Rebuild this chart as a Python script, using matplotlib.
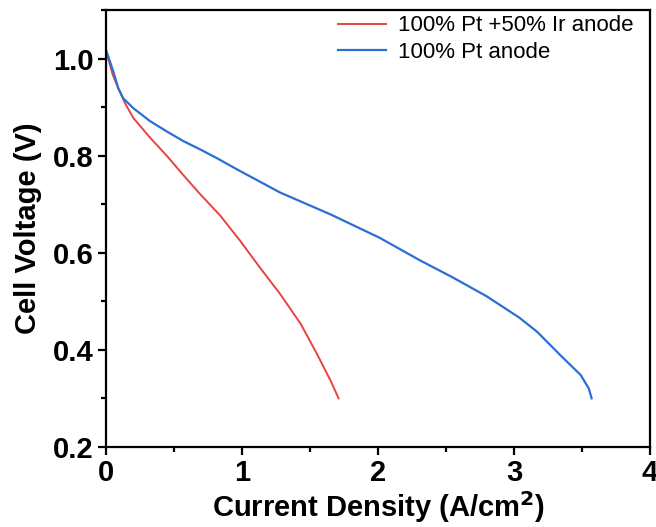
import matplotlib
matplotlib.use('Agg')
import matplotlib.pyplot as plt
from matplotlib.ticker import MultipleLocator

plt.rcParams['font.family'] = ['Liberation Sans', 'DejaVu Sans']

# 100% Pt + 50% Ir anode
ir_x = [0.0, 0.049, 0.09, 0.14, 0.20, 0.324, 0.446, 0.568, 0.691, 0.838, 0.985, 1.13, 1.28,
        1.43, 1.55, 1.65, 1.71]
ir_v = [1.016, 0.967, 0.939, 0.908, 0.878, 0.837, 0.800, 0.760, 0.721, 0.677, 0.625, 0.570,
        0.515, 0.454, 0.392, 0.337, 0.30]

# 100% Pt anode
pt_x = [0.0, 0.054, 0.09, 0.127, 0.20, 0.324, 0.446, 0.568, 0.691, 0.814, 0.961, 1.28, 1.65,
        2.01, 2.31, 2.55, 2.80, 3.04, 3.17, 3.34, 3.49, 3.55, 3.57]
pt_v = [1.018, 0.973, 0.939, 0.918, 0.898, 0.871, 0.850, 0.830, 0.813, 0.795, 0.772, 0.724,
        0.679, 0.631, 0.584, 0.549, 0.510, 0.466, 0.437, 0.389, 0.348, 0.320, 0.30]

labels = ['100% Pt +50% Ir anode', '100% Pt anode']

fig = plt.figure(figsize=(6.56, 5.27), dpi=100)
ax = fig.add_axes([0.1616, 0.152, 0.8294, 0.829])

ax.plot(ir_x, ir_v, color='#e8433f', lw=1.4, label=labels[0])
ax.plot(pt_x, pt_v, color='#2a6fd3', lw=1.6, label=labels[1])

ax.set_xlim(0, 4)
ax.set_ylim(0.2, 1.1)
ax.xaxis.set_major_locator(MultipleLocator(1))
ax.xaxis.set_minor_locator(MultipleLocator(0.5))
ax.yaxis.set_minor_locator(MultipleLocator(0.1))
ax.set_yticks([0.2, 0.4, 0.6, 0.8, 1.0])

for s in ax.spines.values():
    s.set_linewidth(1.6)
ax.tick_params(which='major', direction='out', length=6, width=1.6, labelsize=21, pad=3)
ax.tick_params(which='minor', direction='out', length=3.5, width=1.6)
for t in ax.get_xticklabels() + ax.get_yticklabels():
    t.set_fontweight('bold')

ax.set_xlabel('Current Density (A/cm$^{\\mathbf{2}}$)', fontsize=21, fontweight='bold', labelpad=1)
ax.set_ylabel('Cell Voltage (V)', fontsize=21, fontweight='bold', labelpad=8)

ax.legend(loc='upper right', frameon=False, fontsize=16, handlelength=2.2,
          handletextpad=0.5, labelspacing=0.25, borderaxespad=0.0,
          bbox_to_anchor=(0.985, 1.008))

plt.savefig('out.png', dpi=100)
